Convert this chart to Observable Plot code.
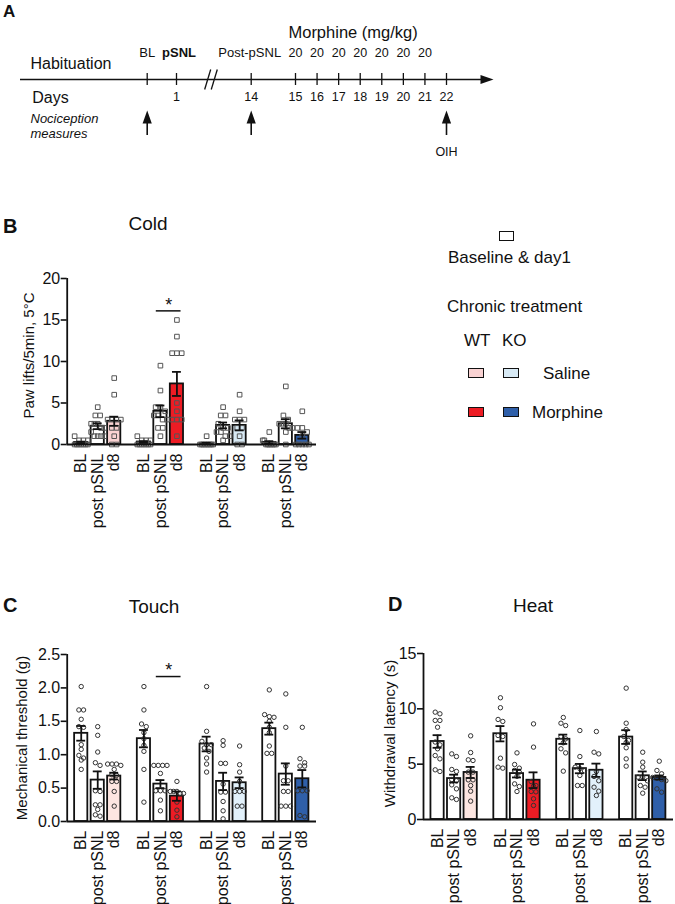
<!DOCTYPE html>
<html>
<head>
<meta charset="utf-8">
<script src="https://cdn.jsdelivr.net/npm/d3@7"></script>
<script src="https://cdn.jsdelivr.net/npm/@observablehq/plot@0.6"></script>
<style>
  html, body { margin: 0; padding: 0; background: #fff; }
  body { width: 675px; height: 904px; overflow: hidden; font-family: "Liberation Sans", Arial, sans-serif; color: #111; }
  #root { position: relative; width: 675px; height: 904px; }
  .lbl { position: absolute; white-space: nowrap; }
  .sw { position: absolute; box-sizing: border-box; border: 1.5px solid #111; }
</style>
</head>
<body>
<div id="root"></div>
<script>
// ======================= DATA =======================
const groups = ["WT saline", "WT morphine", "KO saline", "KO morphine"];
const timepoints = ["BL", "post pSNL", "d8"];

// Panel B — Cold: paw lifts / 5 min at 5 °C  (rows = groups, cols = timepoints)
const coldMean = [[0.25, 2.2, 2.8], [0.3, 4.0, 7.3], [0.1, 2.3, 2.3], [0.25, 2.5, 1.1]];
const coldSem  = [[0.1, 0.35, 0.55], [0.1, 0.7, 1.45], [0.1, 0.35, 0.6], [0.15, 0.55, 0.4]];
const coldPoints = [
  [[1, 0.5, 0.5, 0.5, 0, 0, 0, 0, 0, 0, 0], [4.5, 3.5, 3.5, 2.5, 2.5, 2.5, 2, 2, 1.5, 1, 1, 1, 1], [8, 6, 3, 3, 3, 3, 2, 2, 1, 0, 0]],
  [[1, 0.5, 0.5, 0.5, 0, 0, 0, 0, 0, 0, 0], [9.5, 6.5, 4.5, 4.5, 4, 3.5, 3.5, 3, 3, 2, 2, 1], [15, 13, 11, 11, 11, 5, 4, 3, 3, 3, 1]],
  [[1, 0, 0, 0, 0, 0, 0, 0, 0, 0], [4.5, 3.5, 3.5, 2.5, 2, 2, 1.5, 1.5, 1, 1, 0.5], [6, 4, 3, 3, 3, 2, 2, 1, 0, 0]],
  [[1.5, 0.5, 0.5, 0, 0, 0, 0, 0, 0, 0], [7, 3.5, 3, 2.5, 2.5, 2.5, 2, 2, 1.5, 0], [4, 2, 2, 1.5, 1, 0, 0, 0, 0, 0]]
];
const coldSig = [{group: 1, from: 1, to: 2, y: 16.1}];

// Panel C — Touch: mechanical threshold (g)
const touchMean = [[1.32, 0.62, 0.68], [1.24, 0.56, 0.38], [1.16, 0.60, 0.58], [1.39, 0.71, 0.64]];
const touchSem  = [[0.11, 0.13, 0.05], [0.13, 0.06, 0.07], [0.11, 0.13, 0.08], [0.09, 0.16, 0.13]];
const touchPoints = [
  [[2.02, 1.67, 1.67, 1.53, 1.42, 1.41, 1.15, 1.08, 0.99, 0.95, 0.92, 0.78],
   [1.42, 1.29, 1.04, 0.88, 0.84, 0.46, 0.45, 0.25, 0.25, 0.18, 0.1, 0.08],
   [0.86, 0.86, 0.86, 0.84, 0.78, 0.7, 0.69, 0.6, 0.6, 0.45, 0.23]],
  [[2.02, 1.67, 1.46, 1.42, 1.33, 1.24, 1.14, 1.05, 0.78, 0.29],
   [0.84, 0.84, 0.84, 0.84, 0.72, 0.46, 0.46, 0.46, 0.32, 0.16],
   [0.6, 0.45, 0.45, 0.45, 0.42, 0.42, 0.29, 0.17, 0.07]],
  [[2.02, 1.35, 1.2, 1.15, 1.15, 1.1, 1.05, 0.95, 0.86, 0.74],
   [1.21, 1.14, 0.87, 0.87, 0.56, 0.44, 0.44, 0.3, 0.16, 0.04],
   [1.13, 0.85, 0.74, 0.6, 0.45, 0.45, 0.45, 0.23, 0.23]],
  [[1.97, 1.6, 1.57, 1.56, 1.5, 1.41, 1.33, 1.13, 1.02, 1.02],
   [1.91, 1.41, 0.83, 0.61, 0.61, 0.45, 0.45, 0.23, 0.23, 0.23],
   [1.41, 0.94, 0.88, 0.83, 0.83, 0.46, 0.46, 0.46, 0.09, 0.07]]
];
const touchSig = [{group: 1, from: 1, to: 2, y: 2.17}];

// Panel D — Heat: withdrawal latency (s)
const heatMean = [[7.05, 3.7, 4.25], [7.75, 4.15, 3.55], [7.25, 4.6, 4.45], [7.45, 3.95, 3.8]];
const heatSem  = [[0.57, 0.35, 0.5], [0.69, 0.35, 0.71], [0.42, 0.42, 0.6], [0.62, 0.39, 0.18]];
const heatPoints = [
  [[9.7, 9.55, 8.95, 8.95, 8.34, 7.0, 6.75, 6.39, 5.78, 5.48, 4.49, 4.34],
   [5.93, 5.69, 4.52, 4.34, 3.61, 3.5, 3.13, 2.77, 1.96, 1.81],
   [7.56, 6.05, 5.39, 5.33, 4.28, 4.28, 3.58, 3.58, 3.07, 2.56, 1.66]],
  [[11.0, 10.1, 9.04, 8.86, 7.59, 7.5, 5.54, 4.73, 4.64],
   [6.02, 4.97, 4.64, 4.43, 4.28, 3.9, 3.22, 2.98, 2.53],
   [8.64, 6.54, 3.43, 3.07, 3.0, 2.53, 2.5, 1.87, 1.27]],
  [[9.22, 8.7, 8.49, 7.5, 7.29, 6.93, 6.39, 6.02, 4.37],
   [8.04, 5.69, 4.73, 4.6, 4.4, 3.98, 3.07, 3.07],
   [7.95, 6.08, 5.93, 4.34, 3.89, 3.5, 2.92, 2.56, 2.17]],
  [[11.87, 8.7, 8.13, 7.5, 7.14, 6.96, 6.48, 5.48, 4.82],
   [6.08, 5.18, 4.73, 3.83, 3.83, 3.5, 3.07, 2.92, 2.38],
   [5.27, 4.43, 4.13, 3.8, 3.73, 3.61, 3.5, 2.77, 2.47]]
];

// Panel A — timeline
const tickDays = [0, 1, 14, 15, 16, 17, 18, 19, 20, 21, 22];   // 0 = baseline (BL)
const dayLabels = [1, 14, 15, 16, 17, 18, 19, 20, 21, 22];
const morphineDays = [15, 16, 17, 18, 19, 20, 21];
const morphineDose = [20, 20, 20, 20, 20, 20, 20];
const measureDays = [0, 14, 22];

// ======================= STYLE / LAYOUT =======================
const FONT = "Liberation Sans, Arial, Helvetica, sans-serif";
const INK = "#111";
const fillsB = ["#f9d2d2", "#ed1c24", "#d8eaf5", "#2f5fa9"];
const fillsCD = ["#fde6e1", "#ed1c24", "#e2f1fb", "#2f5fa9"];
const GROUP_STEP = 3.8;           // group spacing in bar-slot units
const X_DOMAIN = [-0.85, 14.26];
const pos = (g, i) => g * GROUP_STEP + i;

const root = document.getElementById("root");

function addText(txt, x, base, fs, opt = {}) {
  const d = document.createElement("div");
  d.className = "lbl";
  d.textContent = txt;
  d.style.fontSize = fs + "px";
  d.style.lineHeight = fs + "px";
  d.style.top = (base - 0.8465 * fs) + "px";
  d.style.left = x + "px";
  if (opt.weight) d.style.fontWeight = opt.weight;
  if (opt.anchor === "middle") d.style.transform = "translateX(-50%)";
  root.appendChild(d);
}
function addSwatch(x, y, w, h, color) {
  const d = document.createElement("div");
  d.className = "sw";
  d.style.left = x + "px"; d.style.top = y + "px";
  d.style.width = w + "px"; d.style.height = h + "px";
  d.style.background = color;
  root.appendChild(d);
}
function place(svg, left, top) {
  const w = document.createElement("div");
  w.style.position = "absolute";
  w.style.left = left + "px";
  w.style.top = top + "px";
  w.appendChild(svg);
  root.appendChild(w);
}

// ======================= PANEL A (timeline) =======================
const headSymbol = { draw(ctx) { ctx.moveTo(0, -7); ctx.lineTo(4.6, 6); ctx.lineTo(-4.6, 6); ctx.closePath(); } };
const slashes = [{a: 5.9, b: 6.95}, {a: 7.05, b: 8.1}];

const plotA = Plot.plot({
  width: 540, height: 165, margin: 0,
  style: {fontFamily: FONT, color: INK, background: "transparent", overflow: "visible"},
  x: {type: "linear", domain: [-10, 0, 1, 14, 15, 22, 25], range: [20, 146.7, 176, 250.7, 295, 446, 493], axis: null},
  y: {domain: [0, 165], range: [0, 165], axis: null},
  marks: [
    Plot.ruleY([79], {x1: -10, x2: 24.4, stroke: INK, strokeWidth: 1.6}),
    Plot.dot([79], {x: 25, y: d => d, symbol: headSymbol, r: 5, rotate: 90, dx: -7, fill: INK, stroke: "none"}),
    Plot.ruleX(tickDays, {x: d => d, y1: 73, y2: 85, stroke: INK, strokeWidth: 1.3}),
    Plot.link(slashes, {x1: "a", y1: 89, x2: "b", y2: 69, stroke: INK, strokeWidth: 1.3}),
    Plot.text(["Habituation"], {x: -10, dx: 10, y: 62.9, text: d => d, textAnchor: "start", fontSize: 16}),
    Plot.text(["Days"], {x: -10, dx: 11.7, y: 96.9, text: d => d, textAnchor: "start", fontSize: 16}),
    Plot.text(["Nociception"], {x: -10, dx: 10, y: 118.8, text: d => d, textAnchor: "start", fontSize: 13, fontStyle: "italic"}),
    Plot.text(["measures"], {x: -10, dx: 10, y: 133.8, text: d => d, textAnchor: "start", fontSize: 13, fontStyle: "italic"}),
    Plot.text(["BL"], {x: 0, y: 52.8, text: d => d, fontSize: 13}),
    Plot.text(["pSNL"], {x: 1, dx: 2.5, y: 52.8, text: d => d, fontSize: 13, fontWeight: "bold"}),
    Plot.text(["Post-pSNL"], {x: 14, dx: -1.5, y: 52.8, text: d => d, fontSize: 13}),
    Plot.text(morphineDays, {x: d => d, y: 52.8, text: (d, i) => String(morphineDose[i]), fontSize: 12.5}),
    Plot.text(["Morphine (mg/kg)"], {x: 17.67, y: 31.8, text: d => d, fontSize: 16.5}),
    Plot.text(dayLabels, {x: d => d, y: 96, text: d => String(d), fontSize: 12.5}),
    Plot.ruleX(measureDays, {x: d => d, y1: 122, y2: 135, stroke: INK, strokeWidth: 1.6}),
    Plot.dot(measureDays, {x: d => d, y: 117, symbol: headSymbol, r: 5, fill: INK, stroke: "none"}),
    Plot.text(["OIH"], {x: 22, y: 151, text: d => d, fontSize: 12.5})
  ]
});
place(plotA, 0, 0);
addText("A", 3, 17, 17, {weight: "bold"});

// ======================= BAR PANELS =======================
function barPanel(cfg) {
  const {means, sems, points, fills, yMax, yTicks, tickFormat, yLabel, labelDx, labelDy,
         symbol, r, dotStroke, dotSpacing, sig, sigDy, width, ml, mr, mt, ph, mb} = cfg;
  const pxY = ph / yMax;
  const pxX = (width - ml - mr) / (X_DOMAIN[1] - X_DOMAIN[0]);
  const bars = [], dots = [], tickPos = [];
  const labelMap = new Map();
  groups.forEach((gname, g) => timepoints.forEach((tp, i) => {
    const p = pos(g, i);
    tickPos.push(p);
    labelMap.set(p, tp);
    bars.push({g, i, p, mean: means[g][i], sem: sems[g][i], fill: i === 2 ? fills[g] : "#fff"});
    // spread points sharing (nearly) the same value into centred rows
    const vals = points[g][i].slice().sort((a, b) => b - a);
    const rows = [];
    let row = [];
    for (const v of vals) {
      if (row.length && (row[0] - v) * pxY > dotSpacing * 0.95) { rows.push(row); row = []; }
      row.push(v);
    }
    if (row.length) rows.push(row);
    for (const rw of rows) {
      const k = rw.length;
      const sp = k > 1 ? Math.min(dotSpacing / pxX, 0.8 / (k - 1)) : 0;
      rw.forEach((v, j) => dots.push({x: p + (j - (k - 1) / 2) * sp, v}));
    }
  }));
  const errStyle = {stroke: INK, strokeWidth: 1.8};
  return Plot.plot({
    width, height: mt + ph + mb,
    marginLeft: ml, marginRight: mr, marginTop: mt, marginBottom: mb,
    style: {fontFamily: FONT, fontSize: "16px", color: INK, background: "transparent", overflow: "visible"},
    x: {domain: X_DOMAIN, axis: null},
    y: {domain: [0, yMax], axis: null},
    marks: [
      Plot.rect(bars, {x1: d => d.p - 0.4, x2: d => d.p + 0.4, y1: 0, y2: "mean", fill: "fill", stroke: INK, strokeWidth: 1.8}),
      Plot.dot(dots, {x: "x", y: "v", symbol, r, stroke: dotStroke, strokeWidth: 1, fill: "none"}),
      Plot.ruleX(bars, {x: "p", y1: d => Math.max(0, d.mean - d.sem), y2: d => d.mean + d.sem, ...errStyle}),
      Plot.ruleY(bars, {y: d => d.mean + d.sem, x1: d => d.p - 0.27, x2: d => d.p + 0.27, ...errStyle}),
      Plot.ruleY(bars.filter(d => d.mean - d.sem > 0), {y: d => d.mean - d.sem, x1: d => d.p - 0.27, x2: d => d.p + 0.27, ...errStyle}),
      Plot.ruleY([0], {stroke: INK, strokeWidth: 1.8}),
      Plot.ruleX([X_DOMAIN[0]], {stroke: INK, strokeWidth: 1.8}),
      Plot.axisY({ticks: yTicks, tickFormat, tickSize: 6, tickPadding: 1, strokeWidth: 1.6, fontSize: 16, label: null}),
      Plot.axisX(tickPos, {tickFormat: v => labelMap.get(v), tickRotate: -90, tickSize: 0, tickPadding: 9, fontSize: 16, label: null}),
      Plot.text([yLabel], {frameAnchor: "left", textAnchor: "middle", rotate: -90, dx: labelDx, dy: labelDy, text: d => d, fontSize: 15}),
      Plot.ruleY(sig, {y: "y", x1: d => pos(d.group, d.from) - 0.25, x2: d => pos(d.group, d.to) + 0.25, stroke: INK, strokeWidth: 1.5}),
      Plot.text(sig, {x: d => (pos(d.group, d.from) + pos(d.group, d.to)) / 2, y: "y", text: () => "*", dy: sigDy, fontSize: 18})
    ]
  });
}

// Panel B
place(barPanel({
  means: coldMean, sems: coldSem, points: coldPoints, fills: fillsB,
  yMax: 20, yTicks: [0, 5, 10, 15, 20], tickFormat: d => String(d),
  yLabel: "Paw lifts/5min, 5°C", labelDx: -38.5, labelDy: -6,
  symbol: "square", r: 2.6, dotStroke: "#555", dotSpacing: 4.8,
  sig: coldSig, sigDy: -6,
  width: 340, ml: 66.7, mr: 24, mt: 38, ph: 166, mb: 80
}), 0, 240);
addText("B", 3, 233, 20, {weight: "bold"});
addText("Cold", 148, 230, 19, {anchor: "middle"});

// Legend
addSwatch(499, 231, 15, 10, "#fff");
addText("Baseline & day1", 448, 263, 17);
addText("Chronic treatment", 447, 312, 17);
addText("WT", 464, 346, 17);
addText("KO", 502, 346, 17);
addSwatch(468, 368, 16, 10, fillsB[0]);
addSwatch(503, 368, 16, 10, fillsB[2]);
addText("Saline", 543, 379, 17);
addSwatch(468, 407, 16, 10, fillsB[1]);
addSwatch(503, 407, 16, 10, fillsB[3]);
addText("Morphine", 532, 418, 17);

// Panel C
place(barPanel({
  means: touchMean, sems: touchSem, points: touchPoints, fills: fillsCD,
  yMax: 2.5, yTicks: [0, 0.5, 1, 1.5, 2, 2.5], tickFormat: d3.format(".1f"),
  yLabel: "Mechanical threshold (g)", labelDx: -45, labelDy: 0,
  symbol: "circle", r: 2.2, dotStroke: "#333", dotSpacing: 4.7,
  sig: touchSig, sigDy: -6,
  width: 340, ml: 66.7, mr: 24, mt: 34, ph: 167, mb: 84
}), 0, 620);
addText("C", 3, 612, 20, {weight: "bold"});
addText("Touch", 154, 613, 19, {anchor: "middle"});

// Panel D
place(barPanel({
  means: heatMean, sems: heatSem, points: heatPoints, fills: fillsCD,
  yMax: 15, yTicks: [0, 5, 10, 15], tickFormat: d => String(d),
  yLabel: "Withdrawal latency (s)", labelDx: -33, labelDy: -3,
  symbol: "circle", r: 2.2, dotStroke: "#333", dotSpacing: 4.7,
  sig: [], sigDy: -6,
  width: 335, ml: 83, mr: 2, mt: 33, ph: 166, mb: 85
}), 340, 620);
addText("D", 388, 611, 20, {weight: "bold"});
addText("Heat", 533, 612, 19, {anchor: "middle"});
</script>
</body>
</html>
